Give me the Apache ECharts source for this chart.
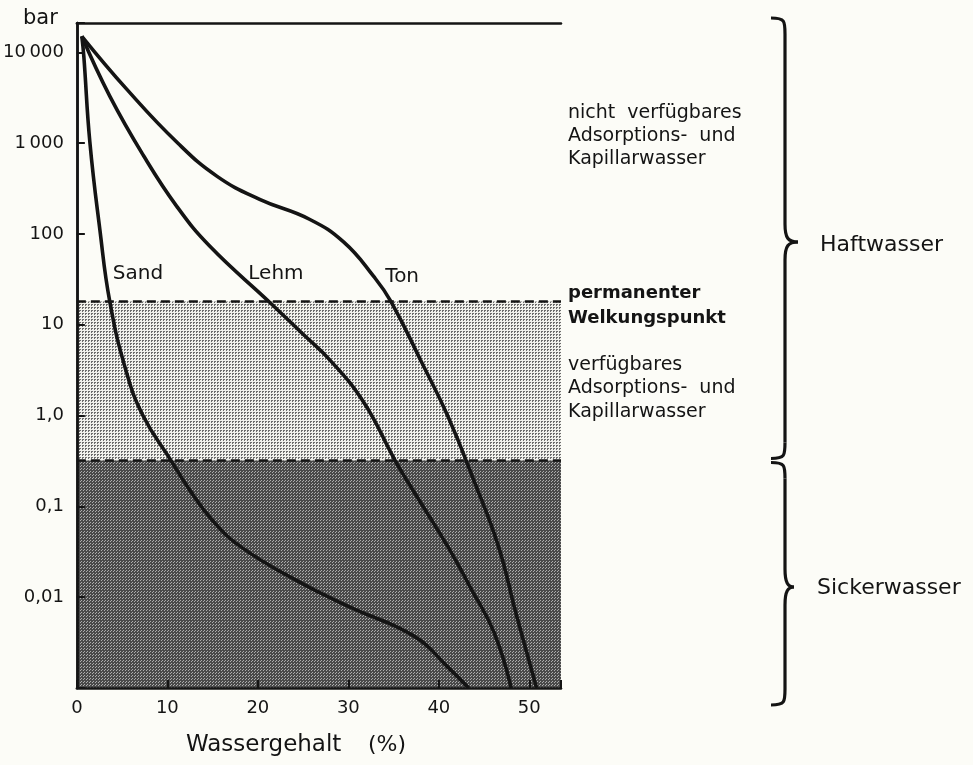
<!DOCTYPE html>
<html>
<head>
<meta charset="utf-8">
<script src="https://cdn.jsdelivr.net/npm/echarts@6/dist/echarts.min.js"></script>
<style>
  html,body{margin:0;padding:0;background:#fcfcf7;}
  #chart{width:973px;height:765px;}
</style>
</head>
<body>
<div id="chart"></div>
<script>
// Wassergehalt (%) und Saugspannung (bar)
const sandX = [0.55, 0.77, 1.44, 2.54, 3.65, 5.4, 7.3, 10.4, 12.5, 15.0, 18.1, 24.0, 30.0, 37.3, 41.0, 43.3];
const sandY = [15000, 9000, 1020, 112, 17.7, 3.2, 1.0, 0.32, 0.15, 0.07, 0.036, 0.0158, 0.0079, 0.0037, 0.0017, 0.001];
const lehmX = [0.55, 3.65, 7.41, 11.06, 14.7, 21.3, 24.8, 28.1, 31.7, 35.1, 36.6, 41.0, 43.6, 46.1, 48.0];
const lehmY = [15000, 3270, 716, 200, 73, 17.7, 8.2, 3.95, 1.4, 0.33, 0.184, 0.036, 0.0122, 0.0041, 0.001];
const tonX = [0.55, 5.53, 11.06, 15.5, 20.2, 25.7, 29.5, 32.8, 34.7, 38.1, 41.0, 43.9, 46.6, 48.5, 50.8];
const tonY = [15000, 3900, 1020, 430, 240, 145, 81, 34, 18.1, 3.86, 0.98, 0.19, 0.036, 0.0068, 0.001];

const soilNames = ['Sand', 'Lehm', 'Ton'];
const soilLabelX = [6.75, 22.0, 35.95];
const soilLabelY = [36.8, 36.8, 34];

// Grenzen: permanenter Welkungspunkt und Feldkapazität (bar)
const wiltingPoint = 18;
const fieldCapacity = 0.32;

const yTickValues = [0.01, 0.1, 1, 10, 100, 1000, 10000];
const yTickLabels = ['0,01', '0,1', '1,0', '10', '100', '1\u2009000', '10\u2009000'];
const xTickValues = [0, 10, 20, 30, 40, 50];

const FONT = 'DejaVu Sans';
const INK = '#141414';

function pairs(xs, ys) {
  return xs.map((x, i) => [x, ys[i]]);
}

// kleines Punktraster wie in der Druckvorlage
function dotPattern(bg, fg, dots) {
  const c = document.createElement('canvas');
  c.width = 3; c.height = 3;
  const g = c.getContext('2d');
  g.fillStyle = bg; g.fillRect(0, 0, 3, 3);
  g.fillStyle = fg;
  dots.forEach(d => g.fillRect(d[0], d[1], 1, 1));
  return { image: c, repeat: 'repeat' };
}

const lightDots = dotPattern('#f1f1ec', '#6c6c6c', [[1, 1], [2, 1], [1, 2]]);
const darkDots = dotPattern('#4a4a4a', '#adadad', [[0, 0], [2, 1]]);

function yLabel(v) {
  const k = Math.log10(v);
  const r = Math.round(k);
  if (Math.abs(k - r) > 1e-6) return '';
  const idx = yTickValues.findIndex(t => Math.abs(Math.log10(t) - r) < 1e-6);
  return idx < 0 ? '' : yTickLabels[idx];
}

function curve(name, xs, ys, i) {
  return {
    name: name,
    type: 'line',
    z: 5,
    smooth: 0.45,
    showSymbol: false,
    data: pairs(xs, ys),
    lineStyle: { color: INK, width: 3.6 },
    itemStyle: { color: INK },
    markPoint: {
      symbol: 'circle',
      symbolSize: 1,
      itemStyle: { color: 'rgba(0,0,0,0)' },
      label: { show: true, position: 'inside', formatter: name, color: INK, fontSize: 20, fontFamily: FONT },
      data: [{ coord: [soilLabelX[i], soilLabelY[i]] }]
    }
  };
}

var myChart = echarts.init(document.getElementById('chart'));

var option = {
  backgroundColor: '#fcfcf7',
  animation: false,
  grid: { left: 76, top: 23, width: 485, height: 665 },
  xAxis: [{
    type: 'value', min: 0, max: 53.5, interval: 10, z: 3,
    axisLine: { show: true, lineStyle: { color: INK, width: 2.5 } },
    axisTick: { show: true, inside: true, length: 8, lineStyle: { color: INK, width: 2 } },
    axisLabel: {
      margin: 11, color: INK, fontSize: 18, fontFamily: FONT,
      formatter: v => xTickValues.indexOf(v) >= 0 ? String(v) : ''
    },
    splitLine: { show: false }
  }, {
    type: 'value', min: 0, max: 53.5, position: 'top', z: 3,
    axisLine: { show: true, lineStyle: { color: INK, width: 2.5 } },
    axisTick: { show: false }, axisLabel: { show: false }, splitLine: { show: false }
  }],
  yAxis: [{
    type: 'log', logBase: 10, min: 0.001, max: 21000, z: 3,
    axisLine: { show: true, lineStyle: { color: INK, width: 2.5 } },
    axisTick: { show: true, inside: true, length: 8, lineStyle: { color: INK, width: 2 } },
    axisLabel: { margin: 13, color: INK, fontSize: 18, fontFamily: FONT, formatter: yLabel },
    splitLine: { show: false },
    minorTick: { show: false }
  }, {
    type: 'log', logBase: 10, min: 0.001, max: 21000, position: 'right', z: 3,
    axisLine: { show: true, lineStyle: { color: INK, width: 2.5 } },
    axisTick: { show: false }, axisLabel: { show: false }, splitLine: { show: false }
  }],
  series: [
    {
      name: 'Bereiche',
      type: 'line',
      z: 1,
      data: [],
      markArea: {
        silent: true,
        data: [
          [{ yAxis: fieldCapacity, itemStyle: { color: lightDots } }, { yAxis: wiltingPoint }],
          [{ yAxis: 0.001, itemStyle: { color: darkDots } }, { yAxis: fieldCapacity }]
        ]
      },
      markLine: {
        silent: true,
        symbol: 'none',
        label: { show: false },
        lineStyle: { color: INK, width: 2.5, type: [9, 5] },
        data: [{ yAxis: wiltingPoint }, { yAxis: fieldCapacity }]
      }
    },
    curve(soilNames[0], sandX, sandY, 0),
    curve(soilNames[1], lehmX, lehmY, 1),
    curve(soilNames[2], tonX, tonY, 2)
  ]
};
myChart.setOption(option);

// geschweifte Klammer rechts aus Linien und Bezierkurven
function brace(x, y1, y2, ym, tip, hook) {
  const st = { stroke: INK, lineWidth: 3.2, fill: null };
  const bez = (a, b, c, d, e, f, g, h) => ({
    type: 'bezierCurve', z: 10, style: st,
    shape: { x1: a, y1: b, cpx1: c, cpy1: d, cpx2: e, cpy2: f, x2: g, y2: h }
  });
  const ln = (a, b, c, d) => ({ type: 'line', z: 10, style: st, shape: { x1: a, y1: b, x2: c, y2: d } });
  return [
    bez(x - hook, y1, x, y1, x, y1 + 3, x, y1 + 16),
    ln(x, y1 + 16, x, ym - 18),
    bez(x, ym - 18, x, ym - 4, x + 3, ym, x + tip, ym),
    bez(x + tip, ym, x + 3, ym, x, ym + 4, x, ym + 18),
    ln(x, ym + 18, x, y2 - 16),
    bez(x, y2 - 16, x, y2 - 3, x, y2, x - hook, y2)
  ];
}

var ySplit = myChart.convertToPixel({ yAxisIndex: 0 }, fieldCapacity);
var yTopPix = myChart.convertToPixel({ yAxisIndex: 0 }, 21000);
var yBotPix = myChart.convertToPixel({ yAxisIndex: 0 }, 0.001);

function txt(x, y, text, size, weight) {
  return {
    type: 'text', x: x, y: y, z: 10,
    style: {
      text: text, fill: INK, textVerticalAlign: 'middle',
      font: (weight || 'normal') + ' ' + size + 'px "' + FONT + '"'
    }
  };
}

myChart.setOption({
  graphic: [
    txt(23, 19, 'bar', 21),
    txt(186, 745, 'Wassergehalt', 23),
    txt(368, 745, '(%)', 22),
    txt(568, 113, 'nicht  verfügbares', 19),
    txt(568, 136, 'Adsorptions-  und', 19),
    txt(568, 159, 'Kapillarwasser', 19),
    txt(568, 293, 'permanenter', 18, 'bold'),
    txt(568, 318, 'Welkungspunkt', 18, 'bold'),
    txt(568, 365, 'verfügbares', 19),
    txt(568, 388, 'Adsorptions-  und', 19),
    txt(568, 412, 'Kapillarwasser', 19),
    txt(820, 245, 'Haftwasser', 22),
    txt(817, 588, 'Sickerwasser', 22)
  ].concat(
    brace(785, yTopPix - 5, ySplit - 2, 242, 13, 14),
    brace(785, ySplit + 2, yBotPix + 17, 587, 9, 14)
  )
});

window.addEventListener('resize', () => {
  myChart.resize();
});
</script>
</body>
</html>
